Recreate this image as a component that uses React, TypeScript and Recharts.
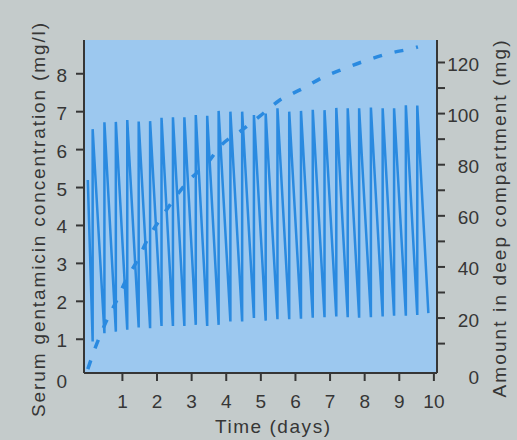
import { LineChart, Line, XAxis, YAxis, CartesianGrid } from "recharts";

// serum gentamicin: dose every 8 h, trough just before each dose, peak right after
const doseDays = [
  0.14, 0.48, 0.81, 1.14, 1.47, 1.8, 2.13, 2.46, 2.79, 3.12, 3.45, 3.78, 4.12, 4.46, 4.8,
  5.14, 5.48, 5.82, 6.16, 6.5, 6.84, 7.18, 7.51, 7.84, 8.18, 8.52, 8.85, 9.19, 9.52,
];
const peakConc = [
  6.54, 6.72, 6.73, 6.78, 6.74, 6.75, 6.84, 6.85, 6.85, 6.91, 6.89, 7.02, 7.0, 7.0, 6.91,
  6.95, 7.09, 7.0, 7.02, 7.05, 7.04, 7.1, 7.09, 7.09, 7.11, 7.09, 7.09, 7.17, 7.16,
];
const troughConc = [
  0.94, 1.16, 1.2, 1.25, 1.31, 1.29, 1.35, 1.35, 1.35, 1.38, 1.35, 1.38, 1.47, 1.47, 1.56,
  1.49, 1.53, 1.53, 1.54, 1.57, 1.58, 1.6, 1.58, 1.57, 1.58, 1.6, 1.62, 1.62, 1.64, 1.69,
];
const firstConc = 5.2;
const lastDay = 9.84;

// amount in deep compartment (dashed)
const deepDays = [
  0, 0.21, 0.53, 0.82, 1.12, 1.44, 1.75, 2.12, 2.5, 2.9, 3.44, 3.84, 4.45, 4.98, 5.55,
  6.18, 6.79, 7.43, 8.11, 8.78, 9.44, 9.54,
];
const deepMg = [
  0, 8.2, 18.6, 26.5, 35.3, 42.7, 51.4, 59.2, 66.7, 73.6, 80.4, 87.4, 93.5, 99.1, 105.3,
  109.6, 114.2, 117.7, 121.1, 123.8, 125.7, 126.1,
];

const concTicks = [0, 1, 2, 3, 4, 5, 6, 7, 8];
const mgTicks = [0, 10, 20, 30, 40, 50, 60, 70, 80, 90, 100, 110, 120];
const dayTicks = [1, 2, 3, 4, 5, 6, 7, 8, 9, 10];

const W = 517;
const H = 440;
const PLOT_L = 84;
const PLOT_R = 437;
const PLOT_T = 40;
const PLOT_B = 373;

const INK = "#363636";
const BLUE = "#2a8ae0";
const PLOT_BG = "#9cc8ef";
const PAGE_BG = "#c4cbcb";
const FONT = "'Liberation Sans', Arial, Helvetica, sans-serif";

const serum: { day: number; conc: number }[] = [{ day: 0, conc: firstConc }];
doseDays.forEach((d, i) => {
  serum.push({ day: d, conc: troughConc[i] });
  serum.push({ day: d, conc: peakConc[i] });
});
serum.push({ day: lastDay, conc: troughConc[troughConc.length - 1] });

const deep = deepDays.map((day, i) => ({ day, mg: deepMg[i] }));

function ConcTick({ y, payload }: any) {
  const v = payload.value;
  return (
    <g>
      {v !== 0 && (
        <line x1={PLOT_L - 8} x2={PLOT_L} y1={y} y2={y} stroke={INK} strokeWidth={2} />
      )}
      <text
        x={PLOT_L - 17}
        y={v === 0 ? 388 : y + 8}
        textAnchor="end"
        fontSize={19}
        fill={INK}
        fontFamily={FONT}
      >
        {v}
      </text>
    </g>
  );
}

function MgTick({ y, payload }: any) {
  const v = payload.value;
  return (
    <g>
      {v !== 0 && (
        <line x1={PLOT_R} x2={PLOT_R + 8} y1={y} y2={y} stroke={INK} strokeWidth={2} />
      )}
      {v % 20 === 0 && (
        <text
          x={479}
          y={v === 0 ? 384 : y + 8.5}
          textAnchor="end"
          fontSize={19}
          fill={INK}
          fontFamily={FONT}
        >
          {v}
        </text>
      )}
    </g>
  );
}

function DayTick({ x, payload }: any) {
  return (
    <g>
      <line x1={x} x2={x} y1={PLOT_B} y2={PLOT_B + 8} stroke={INK} strokeWidth={2} />
      <text x={x} y={408} textAnchor="middle" fontSize={19} fill={INK} fontFamily={FONT}>
        {payload.value}
      </text>
    </g>
  );
}

export default function App() {
  return (
    <div
      style={{
        position: "absolute",
        left: 0,
        top: 0,
        width: W,
        height: H,
        background: PAGE_BG,
      }}
    >
      <LineChart
        width={W}
        height={H}
        margin={{ top: PLOT_T, right: 0, bottom: 0, left: 0 }}
      >
        <CartesianGrid
          horizontal={false}
          vertical={false}
          fill={PLOT_BG}
          fillOpacity={1}
          stroke="none"
        />
        <XAxis
          type="number"
          dataKey="day"
          domain={[-0.11, 10.09]}
          ticks={dayTicks}
          interval={0}
          allowDataOverflow
          height={H - PLOT_B}
          tickLine={false}
          tick={<DayTick />}
          axisLine={{ stroke: INK, strokeWidth: 2 }}
        />
        <YAxis
          yAxisId="conc"
          type="number"
          domain={[0.11, 8.89]}
          ticks={concTicks}
          interval={0}
          allowDataOverflow
          width={PLOT_L}
          tickLine={false}
          tick={<ConcTick />}
          axisLine={{ stroke: INK, strokeWidth: 2 }}
        />
        <YAxis
          yAxisId="mg"
          orientation="right"
          type="number"
          domain={[-1.5, 128.8]}
          ticks={mgTicks}
          interval={0}
          allowDataOverflow
          width={W - PLOT_R}
          tickLine={false}
          tick={<MgTick />}
          axisLine={{ stroke: INK, strokeWidth: 2 }}
        />
        <Line
          yAxisId="mg"
          data={deep}
          dataKey="mg"
          type="monotone"
          stroke={BLUE}
          strokeWidth={3.5}
          strokeDasharray="9 13"
          dot={false}
          activeDot={false}
          isAnimationActive={false}
        />
        <Line
          yAxisId="conc"
          data={serum}
          dataKey="conc"
          type="linear"
          stroke={BLUE}
          strokeWidth={2.5}
          dot={false}
          activeDot={false}
          isAnimationActive={false}
        />
      </LineChart>
      <svg
        width={W}
        height={H}
        style={{ position: "absolute", left: 0, top: 0, pointerEvents: "none" }}
      >
        <text
          x={44.5}
          y={220}
          transform="rotate(-90 44.5 220)"
          textAnchor="middle"
          fontSize={19}
          fill={INK}
          fontFamily={FONT}
          textLength={394}
          lengthAdjust="spacing"
        >
          Serum gentamicin concentration (mg/l)
        </text>
        <text
          x={506}
          y={219}
          transform="rotate(-90 506 219)"
          textAnchor="middle"
          fontSize={19}
          fill={INK}
          fontFamily={FONT}
          textLength={357}
          lengthAdjust="spacing"
        >
          Amount in deep compartment (mg)
        </text>
        <text
          x={272.5}
          y={433}
          textAnchor="middle"
          fontSize={19}
          fill={INK}
          fontFamily={FONT}
          textLength={115}
          lengthAdjust="spacing"
        >
          Time (days)
        </text>
      </svg>
    </div>
  );
}
